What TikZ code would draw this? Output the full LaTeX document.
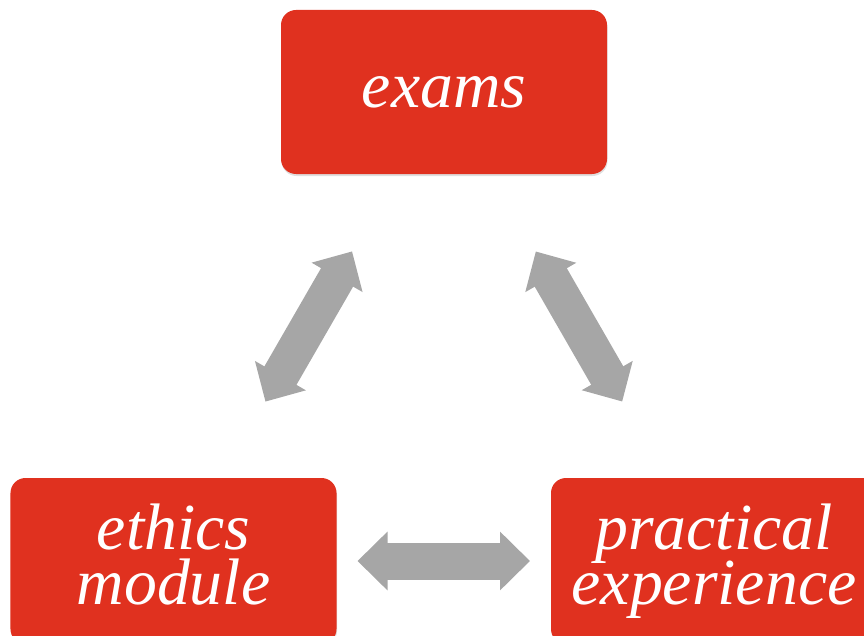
\documentclass[tikz,border=0pt]{standalone}
\usepackage{fontspec}
\setmainfont{Liberation Serif}
\usetikzlibrary{arrows.meta,positioning,shadows}
\definecolor{boxred}{HTML}{E0311F}
\definecolor{arrowgray}{HTML}{A6A6A6}
\newcommand{\boxfont}{\fontsize{66}{55}\selectfont\itshape\setlength{\lineskiplimit}{-100pt}}

\begin{document}
\begin{tikzpicture}[x=1bp,y=-1bp]
    \tikzstyle{topic} = [shape=rectangle, fill=boxred, text=white, rounded corners=15bp, minimum width=326bp, minimum height=164bp, align=center, inner sep=0, font=\boxfont, drop shadow={opacity=0.25, shadow xshift=0.5bp, shadow yshift=-2bp}]
    \tikzstyle{link} = [{Triangle[length=30bp,width=57bp]}-{Triangle[length=30bp,width=57bp]}, arrowgray, line width=37bp, shorten <=184bp, shorten >=184bp]
    \useasboundingbox (0,0) rectangle (864,636);

    \node[topic] (exams) at (444,92) {exams};
    \node[topic, minimum height=166bp] (ethics) at (173.5,561) {ethics\\module\vphantom{p}};
    \node[topic, minimum height=166bp] (practical) at (714,561) {practical\\experience};

    \draw[link] (ethics.center) -- (exams.center);
    \draw[link] (exams.center) -- (practical.center);
    \draw[link] (ethics.center) -- (practical.center);
\end{tikzpicture}
\end{document}
